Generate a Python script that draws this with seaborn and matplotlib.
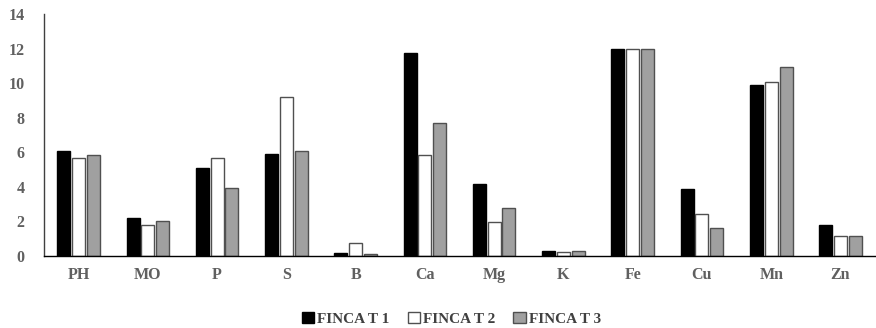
import matplotlib
matplotlib.use("Agg")
import matplotlib.pyplot as plt
import seaborn as sns
import pandas as pd
from matplotlib.patches import Patch

categories = ["PH", "MO", "P", "S", "B", "Ca", "Mg", "K", "Fe", "Cu", "Mn", "Zn"]
finca_t1 = [6.07, 2.18, 5.11, 5.92, 0.15, 11.72, 4.18, 0.31, 12.0, 3.86, 9.89, 1.77]
finca_t2 = [5.69, 1.77, 5.65, 9.18, 0.77, 5.84, 1.98, 0.21, 12.0, 2.45, 10.06, 1.14]
finca_t3 = [5.84, 2.04, 3.91, 6.07, 0.10, 7.69, 2.79, 0.31, 12.0, 1.62, 10.91, 1.14]
series_names = ["FINCA T 1", "FINCA T 2", "FINCA T 3"]
y_ticks = [0, 2, 4, 6, 8, 10, 12, 14]

rows = []
for name, vals in zip(series_names, [finca_t1, finca_t2, finca_t3]):
    for c, v in zip(categories, vals):
        rows.append({"cat": c, "val": v, "serie": name})
df = pd.DataFrame(rows)

sns.set_theme(style="white")
plt.rcParams["font.family"] = ["Liberation Serif", "DejaVu Serif"]

fills = ["#000000", "#ffffff", "#a0a0a0"]
edges = ["#000000", "#505050", "#505050"]

fig = plt.figure(figsize=(8.76, 3.28), dpi=100)
ax = fig.add_axes([0.0502, 0.2195, 0.9488, 0.7378])
sns.barplot(data=df, x="cat", y="val", hue="serie", order=categories,
            hue_order=series_names, palette=fills, width=0.64, gap=0.12,
            ax=ax, legend=False, saturation=1)

for i, cont in enumerate(ax.containers):
    for bar in cont:
        bar.set_edgecolor(edges[i])
        bar.set_linewidth(1.0)

ax.set_ylim(0, 14)
ax.set_yticks(y_ticks)
ax.set_xlim(-0.5, len(categories) - 0.5)
ax.set_xlabel("")
ax.set_ylabel("")
for s in ["top", "right"]:
    ax.spines[s].set_visible(False)
ax.spines["left"].set_color("#404040")
ax.spines["bottom"].set_color("#000000")
ax.spines["left"].set_linewidth(1.0)
ax.spines["bottom"].set_linewidth(1.0)
ax.tick_params(axis="both", length=0, labelsize=11.5, labelcolor="#606060")
ax.tick_params(axis="y", pad=14)
ax.tick_params(axis="x", pad=8)
for lbl in ax.get_xticklabels() + ax.get_yticklabels():
    lbl.set_fontweight("bold")

handles = [Patch(facecolor=f, edgecolor=e, label=n) for f, e, n in zip(fills, edges, series_names)]
leg = fig.legend(handles=handles, loc="lower center", bbox_to_anchor=(0.515, -0.035), ncol=3,
                 frameon=False, handlelength=0.8, handleheight=0.8, handletextpad=0.2,
                 columnspacing=1.2, prop={"weight": "bold", "size": 11})
for t in leg.get_texts():
    t.set_color("#404040")

fig.savefig("out.png", dpi=100)
